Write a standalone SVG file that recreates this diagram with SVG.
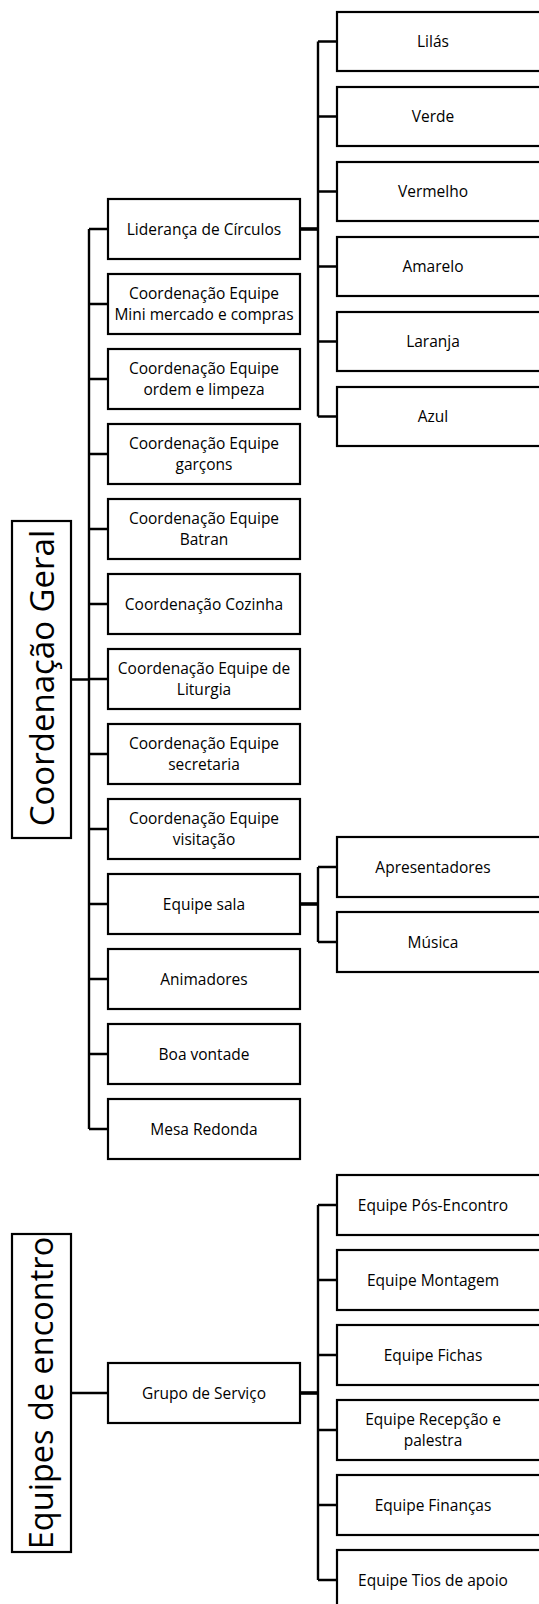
<svg xmlns="http://www.w3.org/2000/svg" width="539" height="1604" viewBox="0 0 539 1604">
<style>
.box{fill:#fff;stroke:#000;stroke-width:2.2}
.t{font-family:"Open Sans","Noto Sans","DejaVu Sans",sans-serif;font-size:15.5px;fill:#000;text-anchor:middle}
.big{font-family:"Open Sans","Noto Sans","DejaVu Sans",sans-serif;font-size:33px;fill:#000;text-anchor:middle}
.c{fill:none;stroke:#000;stroke-width:2.4}
.s{fill:none;stroke:#000;stroke-width:3.6}
</style>
<rect width="539" height="1604" fill="#fff"/>
<g id="connectors">
<path class="c" d="M71 679.5H89M89 229V1129"/>
<path class="c" d="M89 229H108M89 304H108M89 379H108M89 454H108M89 529H108M89 604H108M89 679H108M89 754H108M89 829H108M89 904H108M89 979H108M89 1054H108M89 1129H108"/>
<path class="s" d="M300 229H318"/>
<path class="c" d="M318 41.5V416.5M318 41.5H337M318 116.5H337M318 191.5H337M318 266.5H337M318 341.5H337M318 416.5H337"/>
<path class="s" d="M300 904H318"/>
<path class="c" d="M318 867V942M318 867H337M318 942H337"/>
<path class="c" d="M71 1393H108"/>
<path class="s" d="M300 1393H318"/>
<path class="c" d="M318 1205V1580M318 1205H337M318 1280H337M318 1355H337M318 1430H337M318 1505H337M318 1580H337"/>
</g>
<g id="coordenacao-geral"><rect class="box" x="12" y="521" width="59" height="317"/><text class="big" transform="translate(53.5,678) rotate(-90)">Coordenação Geral</text></g>
<g id="lideranca"><rect class="box" x="108" y="199" width="192" height="60"/><text class="t" x="204" y="234.5">Liderança de Círculos</text></g>
<g id="mini-mercado"><rect class="box" x="108" y="274" width="192" height="60"/><text class="t" x="204" y="299">Coordenação Equipe</text><text class="t" x="204" y="320">Mini mercado e compras</text></g>
<g id="ordem-limpeza"><rect class="box" x="108" y="349" width="192" height="60"/><text class="t" x="204" y="374">Coordenação Equipe</text><text class="t" x="204" y="395">ordem e limpeza</text></g>
<g id="garcons"><rect class="box" x="108" y="424" width="192" height="60"/><text class="t" x="204" y="449">Coordenação Equipe</text><text class="t" x="204" y="470">garçons</text></g>
<g id="batran"><rect class="box" x="108" y="499" width="192" height="60"/><text class="t" x="204" y="524">Coordenação Equipe</text><text class="t" x="204" y="545">Batran</text></g>
<g id="cozinha"><rect class="box" x="108" y="574" width="192" height="60"/><text class="t" x="204" y="609.5">Coordenação Cozinha</text></g>
<g id="liturgia"><rect class="box" x="108" y="649" width="192" height="60"/><text class="t" x="204" y="674">Coordenação Equipe de</text><text class="t" x="204" y="695">Liturgia</text></g>
<g id="secretaria"><rect class="box" x="108" y="724" width="192" height="60"/><text class="t" x="204" y="749">Coordenação Equipe</text><text class="t" x="204" y="770">secretaria</text></g>
<g id="visitacao"><rect class="box" x="108" y="799" width="192" height="60"/><text class="t" x="204" y="824">Coordenação Equipe</text><text class="t" x="204" y="845">visitação</text></g>
<g id="equipe-sala"><rect class="box" x="108" y="874" width="192" height="60"/><text class="t" x="204" y="909.5">Equipe sala</text></g>
<g id="animadores"><rect class="box" x="108" y="949" width="192" height="60"/><text class="t" x="204" y="984.5">Animadores</text></g>
<g id="boa-vontade"><rect class="box" x="108" y="1024" width="192" height="60"/><text class="t" x="204" y="1059.5">Boa vontade</text></g>
<g id="mesa-redonda"><rect class="box" x="108" y="1099" width="192" height="60"/><text class="t" x="204" y="1134.5">Mesa Redonda</text></g>
<g id="lilas"><rect class="box" x="337" y="12" width="210" height="59"/><text class="t" x="433" y="47">Lilás</text></g>
<g id="verde"><rect class="box" x="337" y="87" width="210" height="59"/><text class="t" x="433" y="122">Verde</text></g>
<g id="vermelho"><rect class="box" x="337" y="162" width="210" height="59"/><text class="t" x="433" y="197">Vermelho</text></g>
<g id="amarelo"><rect class="box" x="337" y="237" width="210" height="59"/><text class="t" x="433" y="272">Amarelo</text></g>
<g id="laranja"><rect class="box" x="337" y="312" width="210" height="59"/><text class="t" x="433" y="347">Laranja</text></g>
<g id="azul"><rect class="box" x="337" y="387" width="210" height="59"/><text class="t" x="433" y="422">Azul</text></g>
<g id="apresentadores"><rect class="box" x="337" y="837" width="210" height="60"/><text class="t" x="433" y="872.5">Apresentadores</text></g>
<g id="musica"><rect class="box" x="337" y="912" width="210" height="60"/><text class="t" x="433" y="947.5">Música</text></g>
<g id="equipes-encontro"><rect class="box" x="12" y="1234" width="59" height="318"/><text class="big" style="font-size:32.5px" transform="translate(53,1393) rotate(-90)">Equipes de encontro</text></g>
<g id="grupo-servico"><rect class="box" x="108" y="1363" width="192" height="60"/><text class="t" x="204" y="1398.5">Grupo de Serviço</text></g>
<g id="pos-encontro"><rect class="box" x="337" y="1175" width="210" height="60"/><text class="t" x="433" y="1210.5">Equipe Pós-Encontro</text></g>
<g id="montagem"><rect class="box" x="337" y="1250" width="210" height="60"/><text class="t" x="433" y="1285.5">Equipe Montagem</text></g>
<g id="fichas"><rect class="box" x="337" y="1325" width="210" height="60"/><text class="t" x="433" y="1360.5">Equipe Fichas</text></g>
<g id="recepcao"><rect class="box" x="337" y="1400" width="210" height="60"/><text class="t" x="433" y="1425">Equipe Recepção e</text><text class="t" x="433" y="1446">palestra</text></g>
<g id="financas"><rect class="box" x="337" y="1475" width="210" height="60"/><text class="t" x="433" y="1510.5">Equipe Finanças</text></g>
<g id="tios"><rect class="box" x="337" y="1550" width="210" height="70"/><text class="t" x="433" y="1585.5">Equipe Tios de apoio</text></g>
</svg>
